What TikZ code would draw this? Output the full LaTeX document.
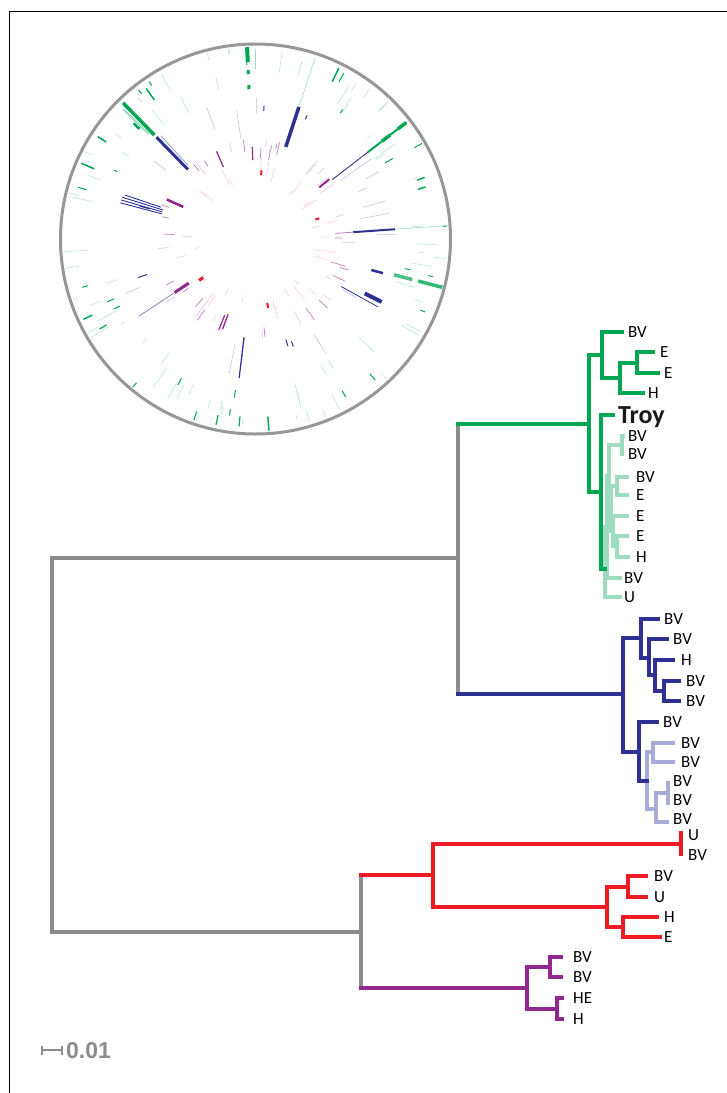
\documentclass[tikz,border=0pt]{standalone}
\usepackage{fontspec}
\setmainfont{Carlito}
\newfontfamily\scalefnt{Liberation Sans}
\definecolor{tgreen}{HTML}{00A651}
\definecolor{tlgreen}{HTML}{9EDCC0}
\definecolor{tblue}{HTML}{2E3192}
\definecolor{tlblue}{HTML}{A9ABD8}
\definecolor{tred}{HTML}{ED1C24}
\definecolor{tpurple}{HTML}{92278F}
\definecolor{tpink}{HTML}{F6B4B8}
\definecolor{tgray}{HTML}{8C8C8C}
\tikzset{
  br/.style={line width=3.2pt, line cap=rect},
  lab/.style={anchor=base west, inner sep=0pt, yshift=-5.5pt, font=\fontsize{17}{18}\selectfont, text=black},
  troylab/.style={anchor=base west, inner sep=0pt, yshift=-8pt, font=\fontsize{26}{28}\selectfont\bfseries, text=black!90},
}
\newcommand\tedge[4]{%
  \draw[br,#1] (#3) -- (#3 |- #4);
  \draw[br,#2] (#3 |- #4) -- (#4);
}
\newcommand\leaf[6]{%
  \coordinate (#1) at (#2,#3);
  \node[lab] (#1l) at (#4,#5) {#6};
}
\newcommand\rs[4]{\draw[#4] (#1:#2) -- (#1:#3);}
\begin{document}
\begin{tikzpicture}[x=1pt,y=-1pt]
\useasboundingbox (0,0) rectangle (727,1093);
\fill[white] (0,0) rectangle (727,1093);
% frame
\draw[black, line width=1.2pt] (9.5,1093) -- (9.5,11.5) -- (727,11.5);

% ---------- circular plot ----------
\begin{scope}[shift={(255.5,239)}]
\coordinate (O) at (0,0);
\pgfmathsetseed{4242}
\foreach \i in {1,...,65}{
  \pgfmathsetmacro\a{360*rnd}
  \pgfmathsetmacro\ra{142+46*rnd}
  \pgfmathsetmacro\rb{min(192,\ra+4+20*rnd)}
  \draw[tlgreen!80, line width=0.5pt] (\a:\ra) -- (\a:\rb);
}
\foreach \i in {1,...,22}{
  \pgfmathsetmacro\a{360*rnd}
  \pgfmathsetmacro\ra{150+38*rnd}
  \pgfmathsetmacro\rb{min(192,\ra+3+9*rnd)}
  \draw[tgreen, line width=1pt] (\a:\ra) -- (\a:\rb);
}
\foreach \i in {1,...,18}{
  \pgfmathsetmacro\a{360*rnd}
  \pgfmathsetmacro\ra{98+30*rnd}
  \pgfmathsetmacro\rb{min(141,\ra+6+25*rnd)}
  \draw[tlblue!80, line width=0.5pt] (\a:\ra) -- (\a:\rb);
}
\foreach \i in {1,...,6}{
  \pgfmathsetmacro\a{360*rnd}
  \pgfmathsetmacro\ra{100+30*rnd}
  \pgfmathsetmacro\rb{min(141,\ra+3+8*rnd)}
  \draw[tblue, line width=1pt] (\a:\ra) -- (\a:\rb);
}
\foreach \i in {1,...,22}{
  \pgfmathsetmacro\a{360*rnd}
  \pgfmathsetmacro\ra{78+16*rnd}
  \pgfmathsetmacro\rb{min(100,\ra+5+12*rnd)}
  \draw[tpurple!60, line width=0.7pt] (\a:\ra) -- (\a:\rb);
}
\foreach \i in {1,...,18}{
  \pgfmathsetmacro\a{360*rnd}
  \pgfmathsetmacro\ra{78+16*rnd}
  \pgfmathsetmacro\rb{min(100,\ra+5+12*rnd)}
  \draw[tpurple!30, line width=0.5pt] (\a:\ra) -- (\a:\rb);
}
\foreach \i in {1,...,32}{
  \pgfmathsetmacro\a{360*rnd}
  \pgfmathsetmacro\ra{55+18*rnd}
  \pgfmathsetmacro\rb{min(82,\ra+5+14*rnd)}
  \draw[tpink!70, line width=0.5pt] (\a:\ra) -- (\a:\rb);
}
% prominent features
\rs{-92.5}{177}{192}{tgreen,line width=4pt}
\rs{-92.5}{165}{169}{tgreen,line width=3pt}
\rs{-92.5}{150}{154}{tgreen,line width=3pt}
\rs{-90}{170}{190}{tlgreen,line width=0.6pt}
\rs{-134.2}{145}{190}{tgreen,line width=3.5pt}
\rs{-135.5}{150}{185}{tlgreen,line width=2pt}
\rs{-136.5}{160}{168}{tgreen,line width=2.5pt}
\rs{-134.2}{97}{142}{tblue,line width=3pt}
\rs{-132.5}{100}{140}{tlblue,line width=1pt}
\rs{195}{97}{140}{tblue,line width=0.9pt}
\rs{196.2}{97}{140}{tblue,line width=0.9pt}
\rs{197.4}{97}{140}{tblue,line width=0.9pt}
\rs{198.6}{100}{138}{tblue,line width=0.9pt}
\rs{-37.7}{142}{191}{tgreen,line width=2pt}
\rs{-37.7}{160}{170}{tgreen,line width=3.5pt}
\rs{-37.7}{180}{190}{tgreen,line width=3.5pt}
\rs{-37.7}{97}{142}{tblue,line width=0.9pt}
\rs{-71.8}{97}{139}{tblue,line width=3.5pt}
\rs{-71.8}{139}{191}{tlgreen,line width=0.6pt}
\rs{-4}{98}{140}{tblue,line width=2pt}
\rs{-4}{140}{192}{tlgreen,line width=0.6pt}
\rs{-4}{80}{98}{tpurple!60,line width=0.8pt}
\rs{14.5}{143}{162}{tgreen!70,line width=3.5pt}
\rs{14.5}{168}{193}{tgreen!80,line width=3.5pt}
\rs{26.5}{122}{141}{tblue,line width=4pt}
\rs{29}{98}{140}{tblue,line width=0.8pt}
\rs{15}{120}{132}{tblue,line width=2.5pt}
\rs{96.7}{99}{140}{tblue,line width=1.2pt}
\rs{143.7}{65}{70}{tred,line width=3pt}
\rs{79.6}{65}{70}{tred,line width=2pt}
\rs{-18}{63}{67}{tred,line width=2pt}
\rs{-85}{64}{69}{tred,line width=2pt}
\rs{146.5}{80}{97}{tpurple,line width=3pt}
\rs{146.5}{97}{140}{tblue!60,line width=0.8pt}
\rs{112}{82}{98}{tpurple,line width=1.2pt}
\rs{110}{80}{96}{tpurple,line width=1.2pt}
\rs{204}{79}{97}{tpurple,line width=2.5pt}
\rs{-39}{82}{95}{tpurple,line width=2pt}
\rs{246}{79}{96}{tpurple,line width=1.2pt}
\rs{-92}{79}{92}{tpurple,line width=1.2pt}
\rs{-64}{175}{190}{tgreen,line width=1.5pt}
\rs{-62}{178}{188}{tgreen,line width=1pt}
\rs{-46}{178}{190}{tlgreen,line width=0.8pt}
\rs{-20}{172}{180}{tgreen,line width=1.5pt}
\rs{-17}{170}{178}{tgreen,line width=1.5pt}
\rs{155}{180}{190}{tgreen,line width=1.5pt}
\rs{150}{172}{180}{tgreen,line width=1.2pt}
\rs{102}{180}{190}{tgreen,line width=1.2pt}
\rs{95}{178}{188}{tgreen,line width=1.2pt}
\rs{86}{178}{192}{tgreen,line width=1.5pt}
\rs{213}{178}{188}{tgreen,line width=1.5pt}
\rs{203.5}{176}{190}{tgreen,line width=1.5pt}
\rs{-126}{172}{186}{tgreen,line width=1.5pt}
\draw[tgray!90, line width=3pt] (O) circle (195);
\end{scope}

% ---------- tree: internal nodes ----------
\coordinate (R) at (52,745);
\coordinate (A) at (458,558);
\coordinate (C) at (361,932);
\coordinate (G0) at (589,424);
\coordinate (G1) at (602,355);
\coordinate (G2) at (620,378);
\coordinate (G3) at (637,363);
\coordinate (G4) at (601,492);
\coordinate (L0) at (605,569);
\coordinate (L1) at (607,527);
\coordinate (L2) at (609,476);
\coordinate (L3) at (622,445);
\coordinate (L4) at (611,508);
\coordinate (L5) at (617,486);
\coordinate (L6) at (613,531);
\coordinate (L7) at (617,546);
\coordinate (B0) at (623,694);
\coordinate (B1) at (641,638);
\coordinate (B2) at (649,658);
\coordinate (B3) at (655,675);
\coordinate (B4) at (664,691);
\coordinate (B5) at (639,752);
\coordinate (LB0) at (647,781);
\coordinate (LB1) at (653,752);
\coordinate (LB2) at (656,809);
\coordinate (LB3) at (668,793);
\coordinate (D0) at (433,875);
\coordinate (D1) at (681,844);
\coordinate (D2) at (607,907);
\coordinate (D3) at (628,887);
\coordinate (D4) at (623,927);
\coordinate (P0) at (527,988);
\coordinate (P1) at (550,967);
\coordinate (P2) at (557,1009);

% ---------- leaves ----------
\leaf{g1}{622}{332}{628}{332}{BV}
\leaf{g2}{653}{352}{660}{352}{E}
\leaf{g3}{658}{373}{664}{373}{E}
\leaf{g4}{643}{393}{648}{393}{H}
\coordinate (troy) at (613,415);
\node[troylab] (troyl) at (618,415) {Troy};
\leaf{l1}{623}{436}{628}{436}{BV}
\leaf{l2}{622}{454}{628}{454}{BV}
\leaf{l3}{627}{477}{636}{477}{BV}
\leaf{l4}{627}{495}{636}{495}{E}
\leaf{l5}{627}{516}{636}{516}{E}
\leaf{l6}{627}{536}{636}{536}{E}
\leaf{l7}{628}{557}{636}{557}{H}
\leaf{l8}{620}{578}{624}{578}{BV}
\leaf{l9}{620}{597}{624}{597}{U}
\leaf{b1}{658}{619}{664}{619}{BV}
\leaf{b2}{667}{639}{673}{639}{BV}
\leaf{b3}{673}{660}{681}{660}{H}
\leaf{b4}{679}{681}{686}{681}{BV}
\leaf{b5}{679}{701}{686}{701}{BV}
\leaf{b6}{657}{722}{663}{722}{BV}
\leaf{lb1}{673}{743}{681}{743}{BV}
\leaf{lb2}{673}{762}{681}{762}{BV}
\leaf{lb3}{668}{783}{673}{781}{BV}
\leaf{lb4}{668}{803}{673}{800}{BV}
\leaf{lb5}{667}{822}{673}{819}{BV}
\leaf{r1}{681}{833}{688}{835}{U}
\leaf{r2}{681}{854}{688}{855}{BV}
\leaf{r3}{646}{876}{654}{876}{BV}
\leaf{r4}{646}{897}{654}{897}{U}
\leaf{r5}{657}{917}{664}{917}{H}
\leaf{r6}{660}{937}{664}{937}{E}
\leaf{p1}{561}{957}{573}{957}{BV}
\leaf{p2}{561}{977}{573}{977}{BV}
\leaf{p3}{562}{998}{573}{998}{HE}
\leaf{p4}{562}{1019}{573}{1019}{H}

% ---------- edges ----------
\foreach \p/\c in {L0/L1,L0/l9,L1/L2,L1/l8,L2/L3,L2/L4,L3/l1,L3/l2,L4/L5,L4/L6,L5/l3,L5/l4,L6/l5,L6/L7,L7/l6,L7/l7}{
  \tedge{tlgreen}{tlgreen}{\p}{\c}
}
\foreach \p/\c in {G0/G1,G0/G4,G1/g1,G1/G2,G2/G3,G2/g4,G3/g2,G3/g3,G4/troy,G4/L0}{
  \tedge{tgreen}{tgreen}{\p}{\c}
}
\foreach \p/\c in {LB0/LB1,LB0/LB2,LB1/lb1,LB1/lb2,LB2/LB3,LB2/lb5,LB3/lb3,LB3/lb4}{
  \tedge{tlblue}{tlblue}{\p}{\c}
}
\foreach \p/\c in {B0/B1,B0/B5,B1/b1,B1/B2,B2/b2,B2/B3,B3/b3,B3/B4,B4/b4,B4/b5,B5/b6,B5/LB0}{
  \tedge{tblue}{tblue}{\p}{\c}
}
\foreach \p/\c in {D0/D1,D0/D2,D1/r1,D1/r2,D2/D3,D2/D4,D3/r3,D3/r4,D4/r5,D4/r6}{
  \tedge{tred}{tred}{\p}{\c}
}
\foreach \p/\c in {P0/P1,P0/P2,P1/p1,P1/p2,P2/p3,P2/p4}{
  \tedge{tpurple}{tpurple}{\p}{\c}
}
\tedge{tgray}{tgreen}{A}{G0}
\tedge{tgray}{tblue}{A}{B0}
\tedge{tgray}{tred}{C}{D0}
\tedge{tgray}{tpurple}{C}{P0}
\tedge{tgray}{tgray}{R}{A}
\tedge{tgray}{tgray}{R}{C}

% ---------- scale bar ----------
\coordinate (sb1) at (42,1050);
\coordinate (sb2) at (62,1050);
\draw[tgray, line width=2.2pt] (sb1) -- (sb2);
\draw[tgray, line width=2.2pt] ([yshift=4.5pt]sb1) -- ([yshift=-4.5pt]sb1);
\draw[tgray, line width=2.2pt] ([yshift=4.5pt]sb2) -- ([yshift=-4.5pt]sb2);
\node[anchor=base west, inner sep=0pt, text=tgray, font=\scalefnt\bfseries\fontsize{23}{25}\selectfont] (sbl) at (66,1058) {0.01};
\end{tikzpicture}
\end{document}
